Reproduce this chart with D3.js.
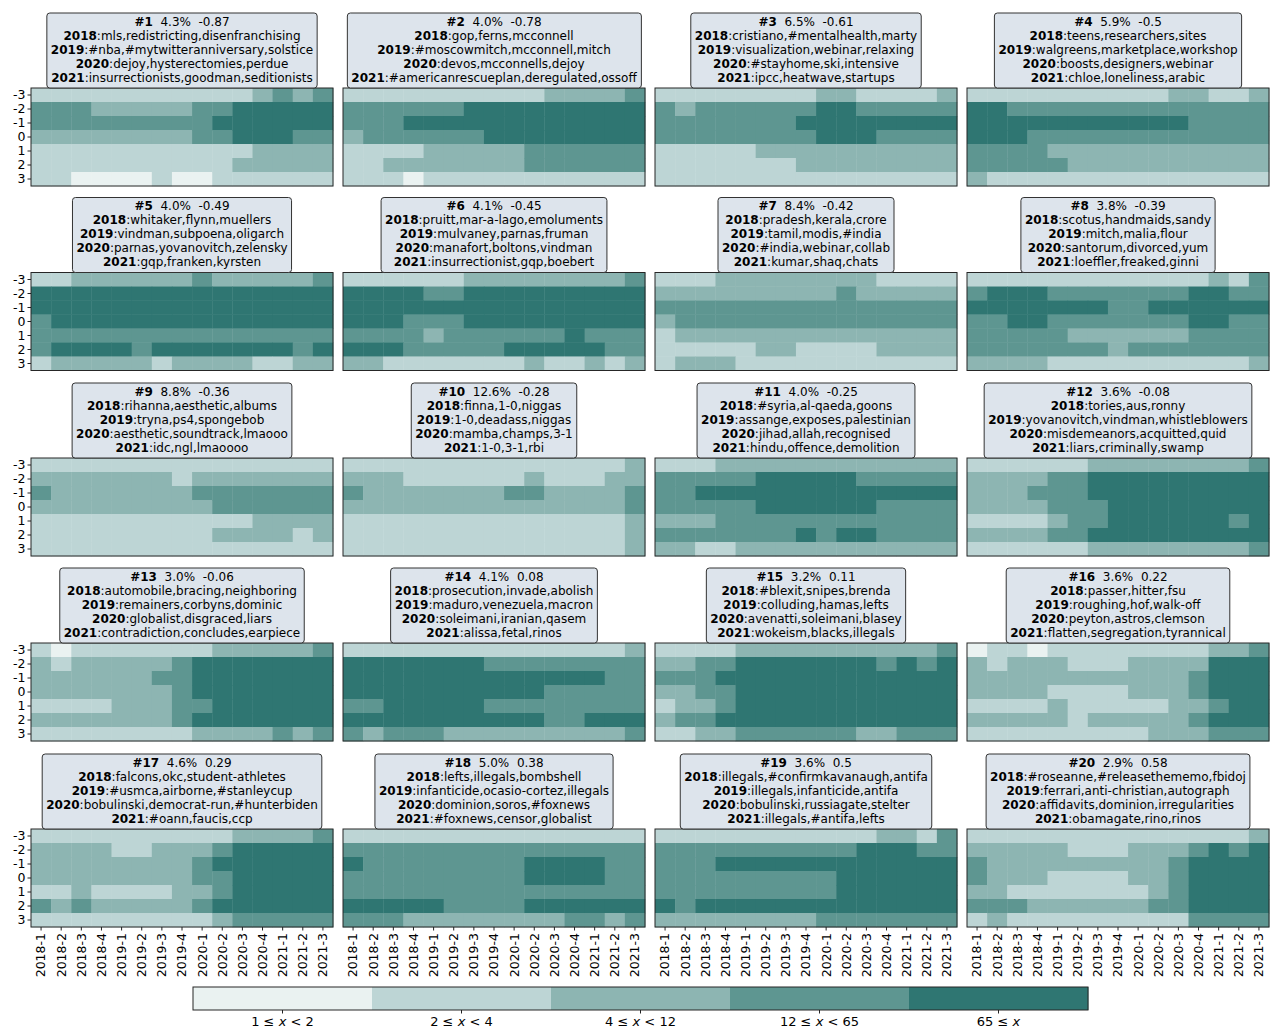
<!DOCTYPE html>
<html>
<head>
<meta charset="utf-8">
<script src="https://cdn.jsdelivr.net/npm/d3@7"></script>
<style>
body { margin: 0; background: #fff; }
text { font-family: "DejaVu Sans", sans-serif; fill: #000; }
</style>
</head>
<body>
<svg id="chart" width="1270" height="1028"></svg>
<script>
// periods on the x axis, offsets on the y axis
var periods = ["2018-1","2018-2","2018-3","2018-4","2019-1","2019-2","2019-3","2019-4",
               "2020-1","2020-2","2020-3","2020-4","2021-1","2021-2","2021-3"];
var offsets = ["-3","-2","-1","0","1","2","3"];

// colour bins
var binLabels = [["1 \u2264 ","x"," < 2"],["2 \u2264 ","x"," < 4"],["4 \u2264 ","x"," < 12"],
                 ["12 \u2264 ","x"," < 65"],["65 \u2264 ","x",""]];
var binColors = ["#eaf2f1","#bdd5d5","#8db5b2","#5e9691","#2f7672"];

// topic headers
var topicIds = [1,2,3,4,5,6,7,8,9,10,11,12,13,14,15,16,17,18,19,20];
var topicShares = ["4.3%","4.0%","6.5%","5.9%","4.0%","4.1%","8.4%","3.8%","8.8%","12.6%",
                   "4.0%","3.6%","3.0%","4.1%","3.2%","3.6%","4.6%","5.0%","3.6%","2.9%"];
var topicScores = ["-0.87","-0.78","-0.61","-0.5","-0.49","-0.45","-0.42","-0.39","-0.36","-0.28",
                   "-0.25","-0.08","-0.06","0.08","0.11","0.22","0.29","0.38","0.5","0.58"];
var years = ["2018","2019","2020","2021"];
var topicWords = [
  ["mls,redistricting,disenfranchising","#nba,#mytwitteranniversary,solstice","dejoy,hysterectomies,perdue","insurrectionists,goodman,seditionists"],
  ["gop,ferns,mcconnell","#moscowmitch,mcconnell,mitch","devos,mcconnells,dejoy","#americanrescueplan,deregulated,ossoff"],
  ["cristiano,#mentalhealth,marty","visualization,webinar,relaxing","#stayhome,ski,intensive","ipcc,heatwave,startups"],
  ["teens,researchers,sites","walgreens,marketplace,workshop","boosts,designers,webinar","chloe,loneliness,arabic"],
  ["whitaker,flynn,muellers","vindman,subpoena,oligarch","parnas,yovanovitch,zelensky","gqp,franken,kyrsten"],
  ["pruitt,mar-a-lago,emoluments","mulvaney,parnas,fruman","manafort,boltons,vindman","insurrectionist,gqp,boebert"],
  ["pradesh,kerala,crore","tamil,modis,#india","#india,webinar,collab","kumar,shaq,chats"],
  ["scotus,handmaids,sandy","mitch,malia,flour","santorum,divorced,yum","loeffler,freaked,ginni"],
  ["rihanna,aesthetic,albums","tryna,ps4,spongebob","aesthetic,soundtrack,lmaooo","idc,ngl,lmaoooo"],
  ["finna,1-0,niggas","1-0,deadass,niggas","mamba,champs,3-1","1-0,3-1,rbi"],
  ["#syria,al-qaeda,goons","assange,exposes,palestinian","jihad,allah,recognised","hindu,offence,demolition"],
  ["tories,aus,ronny","yovanovitch,vindman,whistleblowers","misdemeanors,acquitted,quid","liars,criminally,swamp"],
  ["automobile,bracing,neighboring","remainers,corbyns,dominic","globalist,disgraced,liars","contradiction,concludes,earpiece"],
  ["prosecution,invade,abolish","maduro,venezuela,macron","soleimani,iranian,qasem","alissa,fetal,rinos"],
  ["#blexit,snipes,brenda","colluding,hamas,lefts","avenatti,soleimani,blasey","wokeism,blacks,illegals"],
  ["passer,hitter,fsu","roughing,hof,walk-off","peyton,astros,clemson","flatten,segregation,tyrannical"],
  ["falcons,okc,student-athletes","#usmca,airborne,#stanleycup","bobulinski,democrat-run,#hunterbiden","#oann,faucis,ccp"],
  ["lefts,illegals,bombshell","infanticide,ocasio-cortez,illegals","dominion,soros,#foxnews","#foxnews,censor,globalist"],
  ["illegals,#confirmkavanaugh,antifa","illegals,infanticide,antifa","bobulinski,russiagate,stelter","illegals,#antifa,lefts"],
  ["#roseanne,#releasethememo,fbidoj","ferrari,anti-christian,autograph","affidavits,dominion,irregularities","obamagate,rino,rinos"]
];

// bin index per cell: one string per offset row (-3..3), one digit per period
var topicGrids = [
  ["111111111112323","333222223344444","333333333444444","222222223344433","111111111112222","111111111122222","110000100111111"],
  ["111111111122223","333333444444444","333444444444444","233333344444444","111122222333333","112222222333333","111011111111111"],
  ["111111112211112","323333334433333","333333344444444","333333334443333","111112222222222","111111122222222","111111111111111"],
  ["111111111122112","443333333333333","444444444443333","444333333333333","333322222222222","333332222222222","211111111111111"],
  ["112222223222223","444444444444444","444444444444444","344444444444444","333333333333333","344443444444434","122222122221122"],
  ["111111222222223","444433444444444","444444444444444","444333444444444","333323333334333","444333334444433","221111111211212"],
  ["111222222221111","222222222322222","333333333333333","233333333333333","122222222222222","111112211112222","122211111111111"],
  ["111111111111213","344433333334433","444444433444444","334433333334433","333332222223333","333333323333333","222211111111112"],
  ["111111111111111","222222212222222","322222223333333","222222222333333","111111111112222","111111111222212","111111111111111"],
  ["111111111111112","222111111211122","322222223322223","222222222222223","111111111111112","111111111111112","111111111111112"],
  ["111222222222222","333334444433333","334444444444444","333334444443333","222333333333333","333333343443333","221122222222222"],
  ["111111222222223","222233444444444","222333444444444","222233344444444","111123344444434","222233444444444","111111222222223"],
  ["101111111222223","212222234444444","222222334444444","222222234444444","111122233444444","222222234444444","111111112222323"],
  ["111111111111112","444444433333333","444444444444433","444444444433333","334444433333333","444444444433444","323332222222223"],
  ["111122222222223","223344444443434","333444444444444","223344444444444","122344444444444","233444444444444","112233333322333"],
  ["011011111111223","212221112222444","222222222223444","222211112223444","111121111122344","222221222223444","111111111222333"],
  ["111111111122223","222211222344444","222222223444444","222222223344444","112111122344444","323222223444444","111111111233333"],
  ["111111111111111","333333333333333","433333333444433","333333333444433","333333333333333","444443333444444","333222222223323"],
  ["111111111112213","333333333344433","333444444444444","333333333444444","333333333444444","434444444444444","222222223333333"],
  ["111111111111112","222221112223434","322222222234444","322211112234444","221111111234444","333222222334444","121111111113333"]
];

var svg = d3.select("#chart");

var panelLeft = [31, 343, 655, 967],
    panelTop = [88, 272.5, 458, 643, 829],
    panelW = 302,
    panelH = 98;

var xScale = d3.scaleBand().domain(periods).range([0, panelW]);
var yScale = d3.scaleBand().domain(offsets).range([0, panelH]);
var colorScale = d3.scaleOrdinal().domain([0,1,2,3,4]).range(binColors);

topicIds.forEach(function (id, i) {
    var col = i % 4,
        row = Math.floor(i / 4);

    var g = svg.append("g")
        .attr("transform", "translate(" + panelLeft[col] + "," + panelTop[row] + ")");

    var cells = [];
    topicGrids[i].forEach(function (s, r) {
        s.split("").forEach(function (c, k) {
            cells.push({offset: offsets[r], period: periods[k], bin: +c});
        });
    });

    g.selectAll("rect.cell")
        .data(cells)
        .enter()
        .append("rect")
        .attr("class", "cell")
        .attr("x", function (d) { return xScale(d.period); })
        .attr("y", function (d) { return yScale(d.offset); })
        .attr("width", xScale.bandwidth() + 0.4)
        .attr("height", yScale.bandwidth() + 0.4)
        .attr("fill", function (d) { return colorScale(d.bin); });

    g.append("rect")
        .attr("width", panelW)
        .attr("height", panelH)
        .attr("fill", "none")
        .attr("stroke", "#262626")
        .attr("stroke-width", 1);

    // y axis only on the first column
    if (col == 0) {
        var ya = g.append("g").call(d3.axisLeft(yScale).tickSize(3.5).tickPadding(2));
        ya.select(".domain").remove();
        ya.selectAll("line").attr("stroke", "#222");
        ya.selectAll("text").style("font-size", "12.5px").style("font-family", "DejaVu Sans");
    }

    // x axis only on the bottom row
    if (row == 4) {
        var xa = g.append("g")
            .attr("transform", "translate(0," + panelH + ")")
            .call(d3.axisBottom(xScale).tickSize(3.5).tickPadding(2));
        xa.select(".domain").remove();
        xa.selectAll("line").attr("stroke", "#222");
        xa.selectAll("text")
            .style("font-size", "12.5px")
            .style("font-family", "DejaVu Sans")
            .attr("text-anchor", "end")
            .attr("x", -6)
            .attr("y", 0)
            .attr("dy", "0.35em")
            .attr("transform", "rotate(-90)");
    }

    // header box
    var note = g.append("g");
    var lineGap = 14;
    var baseY = -6.5;
    var head = note.append("text")
        .attr("x", panelW / 2)
        .attr("y", baseY - 4 * lineGap)
        .attr("text-anchor", "middle")
        .style("font-size", "12px")
        .style("white-space", "pre");
    head.append("tspan").attr("font-weight", "bold").text("#" + id);
    head.append("tspan").text("  " + topicShares[i] + "  " + topicScores[i]);

    years.forEach(function (yr, j) {
        var t = note.append("text")
            .attr("x", panelW / 2)
            .attr("y", baseY - (3 - j) * lineGap)
            .attr("text-anchor", "middle")
            .style("font-size", "12px");
        t.append("tspan").attr("font-weight", "bold").text(yr);
        t.append("tspan").text(":" + topicWords[i][j]);
    });

    var bb = note.node().getBBox();
    note.insert("rect", ":first-child")
        .attr("x", bb.x - 4)
        .attr("y", bb.y - 1.5)
        .attr("width", bb.width + 8)
        .attr("height", -bb.y + 1.5)
        .attr("rx", 3)
        .attr("fill", "#dde4ec")
        .attr("stroke", "#333")
        .attr("stroke-width", 1);
});

// colour bar
var barX = d3.scaleBand().domain(d3.range(binColors.length)).range([193, 1088]);
var bar = svg.append("g").attr("transform", "translate(0,987)");
bar.selectAll("rect.bin")
    .data(binColors)
    .enter()
    .append("rect")
    .attr("class", "bin")
    .attr("x", function (d, k) { return barX(k); })
    .attr("width", barX.bandwidth() + 0.4)
    .attr("height", 23)
    .attr("fill", function (d) { return d; });
bar.append("rect")
    .attr("x", 193).attr("width", 895).attr("height", 23)
    .attr("fill", "none").attr("stroke", "#262626");

var barAxis = bar.append("g")
    .attr("transform", "translate(0,23)")
    .call(d3.axisBottom(barX).tickSize(3.5).tickPadding(2).tickFormat(""));
barAxis.select(".domain").remove();
barAxis.selectAll("line").attr("stroke", "#222");

binLabels.forEach(function (lab, k) {
    var t = bar.append("text")
        .attr("x", barX(k) + barX.bandwidth() / 2)
        .attr("y", 39)
        .attr("text-anchor", "middle")
        .style("font-size", "13px")
        .style("white-space", "pre");
    t.append("tspan").text(lab[0]);
    t.append("tspan").attr("font-style", "italic").text(lab[1]);
    t.append("tspan").text(lab[2]);
});
</script>
</body>
</html>
